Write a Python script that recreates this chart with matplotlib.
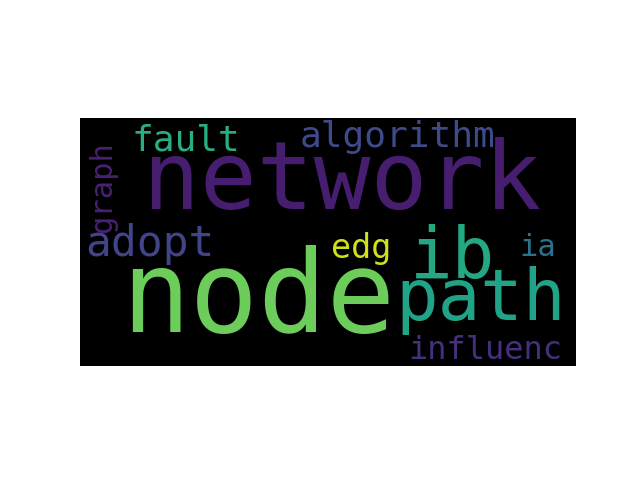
import matplotlib

matplotlib.use("Agg")
import matplotlib.pyplot as plt

# word cloud content, positions in image pixels of a 400x200 canvas
words = ["network", "node", "path", "ib", "fault", "algorithm", "adopt", "edg", "ia", "graph", "influenc"]
xs = [211, 144, 323, 300, 85, 256, 56, 227, 369, 18, 327]
ys = [52, 147, 147, 113, 18, 15, 101, 105, 104, 55, 187]
sizes = [68, 82, 51, 51, 26, 26, 31, 24, 22, 22, 23]
rotations = [0, 0, 0, 0, 0, 0, 0, 0, 0, 90, 0]
colors = ["#471e6f", "#6ccd5a", "#20a386", "#24a884", "#29af7f", "#3e4a89",
          "#414487", "#d0e11c", "#2c718e", "#482173", "#46307e"]

fig = plt.figure(figsize=(6.4, 4.8), dpi=100)
ax = fig.add_subplot(111)
ax.imshow([[0.0]], cmap="gray", vmin=0, vmax=1, extent=(0, 400, 200, 0))
for w, x, y, s, r, c in zip(words, xs, ys, sizes, rotations, colors):
    ax.text(x, y, w, fontsize=s, rotation=r, color=c, family="DejaVu Sans Mono",
            ha="center", va="center", clip_on=True)
ax.set_xlim(0, 400)
ax.set_ylim(200, 0)
ax.axis("off")
fig.savefig("out.png")
